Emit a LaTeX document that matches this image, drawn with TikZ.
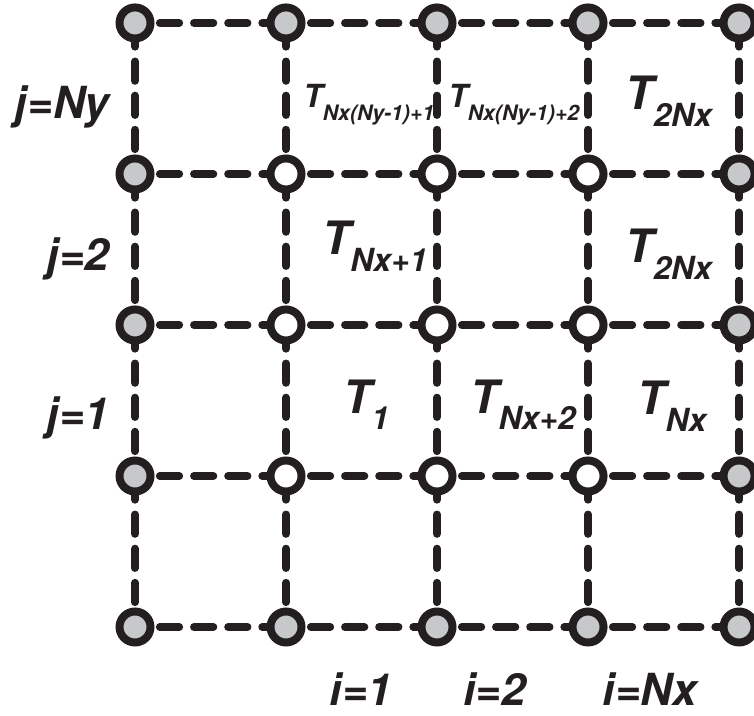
\documentclass[tikz,border=0pt]{standalone}
\usepackage{fontspec}
\setmainfont{TeX Gyre Heros}
\usepackage{xcolor}
\usepackage{tikz}

\definecolor{knotgray}{HTML}{C6C8CA}
\definecolor{ink}{HTML}{231F20}

\newcommand{\bigT}[1]{{\fontsize{26}{26}\selectfont T}\raisebox{-9.5pt}{\fontsize{18}{18}\selectfont #1}}
\newcommand{\smallT}[1]{{\fontsize{18}{18}\selectfont T}\raisebox{-7pt}{\fontsize{12}{12}\selectfont #1}}

\begin{document}
\begin{tikzpicture}[
                  x = 3cm, y = 3cm,
                  font    = \bfseries\itshape,
                  knot/.style = {circle, draw=ink, line width=4.5pt, minimum size=0.616cm, inner sep=0pt},
                  link/.style = {draw=ink, line width=4.4pt, line cap=round, dash pattern=on 11pt off 8.3pt, dash phase=-3pt},
                  idx/.style  = {font=\fontsize{25}{25}\selectfont\bfseries\itshape, inner sep=0pt, text=ink},
                  cell/.style = {anchor=base west, inner sep=0pt, text=ink}
            ]
            \useasboundingbox (-0.894,-0.589) rectangle (4.099,4.152);

            % cvorovi mreze - sivi na rubu, bijeli unutra
            \foreach \i in {0,...,4}
              \foreach \j in {0,...,4} {
                \pgfmathtruncatemacro\rim{(\i==0)||(\i==4)||(\j==0)||(\j==4)}
                \ifnum\rim=1 \def\knotfill{knotgray}\else\def\knotfill{white}\fi
                \node[knot, fill=\knotfill] (n-\i-\j) at (\i,\j) {};
              }

            % isprekidane veze izmedu susjednih cvorova
            \foreach \i [evaluate=\i as \k using int(\i+1)] in {0,...,3}
              \foreach \j in {0,...,4} {
                \draw[link] (n-\i-\j) -- (n-\k-\j);
                \draw[link] (n-\j-\i) -- (n-\j-\k);
              }

            % indeksi redaka i stupaca
            \node[idx, anchor=base east] (jNy) at (-0.166,3.370) {j=Ny};
            \node[idx, anchor=base east] (j2)  at (-0.166,2.364) {j=2};
            \node[idx, anchor=base east] (j1)  at (-0.166,1.305) {j=1};
            \node[idx, anchor=base] (i1)  at (1.497,-0.517) {i=1};
            \node[idx, anchor=base] (i2)  at (2.384,-0.517) {i=2};
            \node[idx, anchor=base] (iNx) at (3.411,-0.517) {i=Nx};

            % temperature u celijama
            \node[cell] (tTopA) at (1.113,3.437) {\smallT{Nx(Ny-1)+1}};
            \node[cell] (tTopB) at (2.073,3.437) {\smallT{Nx(Ny-1)+2}};
            \node[cell] (tTopC) at (3.245,3.424) {\bigT{2Nx}};
            \node[cell] (tMidA) at (1.238,2.464) {\bigT{Nx+1}};
            \node[cell] (tMidC) at (3.245,2.411) {\bigT{2Nx}};
            \node[cell] (tLowA) at (1.377,1.417) {\bigT{1}};
            \node[cell] (tLowB) at (2.219,1.417) {\bigT{Nx+2}};
            \node[cell] (tLowC) at (3.325,1.404) {\bigT{Nx}};
      \end{tikzpicture}
\end{document}
